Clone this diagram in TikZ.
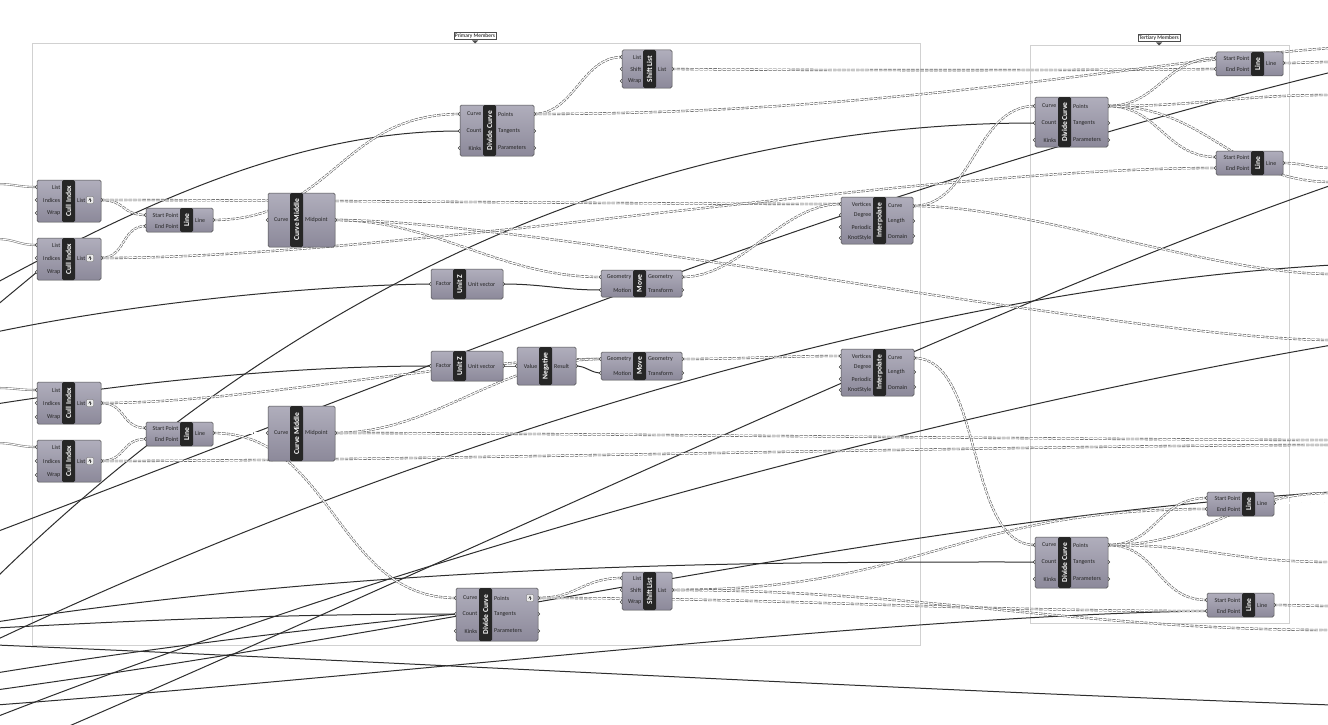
\documentclass[tikz,border=0pt]{standalone}
\usepackage{fontspec}
\setsansfont{Carlito}
\usetikzlibrary{positioning}

\definecolor{ghtop}{RGB}{176,174,188}
\definecolor{ghbot}{RGB}{140,137,154}

\pgfdeclarelayer{grp}
\pgfdeclarelayer{bg}
\pgfsetlayers{grp,bg,main}

\tikzset{
  ghbody/.style={draw=black!70, line width=0.5pt, rounded corners=1.5pt, top color=ghtop, bottom color=ghbot},
  ghstrip/.style={fill=black!85, rounded corners=1.5pt},
  ghtitle/.style={text=white, font=\sffamily\bfseries\fontsize{7.5}{8}\selectfont, rotate=90, inner sep=0pt},
  ghlab/.style={font=\sffamily\fontsize{6}{6}\selectfont, text=black!85, inner sep=0pt},
  ghport/.style={draw=black!80, fill=white, line width=0.5pt},
  ghicon/.style={draw=black!60, fill=black!8, line width=0.4pt, rounded corners=0.8pt},
  wire/.style={draw=black!82, line width=1pt},
  lwire/.style={draw=black!62, line width=0.6pt, double=white, double distance=1.1pt, dash pattern=on 3.4pt off 1.2pt},
  twire/.style={draw=black!50, line width=0.6pt, double=white, double distance=0.9pt},
  grpframe/.style={draw=black!18, line width=0.6pt},
  grplab/.style={draw=black!70, fill=white, font=\sffamily\fontsize{5.5}{6}\selectfont, inner sep=1.2pt}
}

% #1 name, #2-#5 box, #6 strip left, #7 title, #8 inputs, #9 outputs
\newcommand{\ghcomp}[9]{%
  \foreach \py/\pl [count=\k] in {#8}{
    \draw[ghport] (#2,\py) circle (1.7pt);
    \coordinate (#1-i\k) at (#2,\py);
  }
  \foreach \py/\pl [count=\k] in {#9}{
    \draw[ghport] (#4,\py) circle (1.7pt);
    \coordinate (#1-o\k) at (#4,\py);
  }
  \draw[ghbody] (#2,#3) rectangle (#4,#5);
  \coordinate (#1) at ({(#2+#4)/2},{(#3+#5)/2});
  \fill[ghstrip] (#6,#3) rectangle ({#6+13},#5);
  \node[ghtitle] at ({#6+6.5},{(#3+#5)/2}) {#7};
  \foreach \py/\pl in {#8}
    \node[ghlab, anchor=east] at ({#6-1.5},\py) {\pl};
  \foreach \py/\pl in {#9}
    \node[ghlab, anchor=west] at ({#6+15},\py) {\pl};
}

% wire with horizontal tangents, #1 = handle length
\newcommand{\ghlink}[4][40]{\draw[#2] (#3) .. controls +(#1,0) and +(-#1,0) .. (#4);}

\begin{document}
\begin{tikzpicture}[x=1pt, y=-1pt]
  \useasboundingbox (0,0) rectangle (1328,725);

  % groups
  \begin{pgfonlayer}{grp}
    \fill[white] (0,0) rectangle (1328,725);
    \draw[grpframe] (32,43) rectangle (920,645);
    \draw[grpframe] (1030,45) rectangle (1289,623);
  \end{pgfonlayer}
  \node[grplab] (primary) at (475,36) {Primary Members};
  \node[grplab] (tertiary) at (1159,38) {Tertiary Members};
  \fill[black!70] (472,40.5) -- (478,40.5) -- (475,43.5) -- cycle;
  \fill[black!70] (1156,42.5) -- (1162,42.5) -- (1159,45.5) -- cycle;

  % components
  \ghcomp{cullA}{37}{180}{101}{222}{62}{Cull Index}{187/List,200/Indices,213/Wrap}{200/List}
  \ghcomp{cullB}{37}{238}{101}{280}{62}{Cull Index}{245/List,258/Indices,272/Wrap}{258/List}
  \ghcomp{cullC}{37}{382}{101}{424}{62}{Cull Index}{390/List,403/Indices,417/Wrap}{403/List}
  \ghcomp{cullD}{37}{440}{101}{482}{62}{Cull Index}{447/List,461/Indices,475/Wrap}{461/List}
  \ghcomp{lineA}{146}{208}{213}{232}{180}{Line}{215/Start Point,226/End Point}{220/Line}
  \ghcomp{lineB}{146}{422}{213}{446}{180}{Line}{428/Start Point,439/End Point}{433/Line}
  \ghcomp{midA}{268}{193}{335}{247}{290}{Curve Middle}{220/Curve}{220/Midpoint}
  \ghcomp{midB}{268}{406}{335}{461}{290}{Curve Middle}{433/Curve}{433/Midpoint}
  \ghcomp{divA}{460}{105}{534}{156}{483}{Divide Curve}{114/Curve,131/Count,148/Kinks}{114/Points,131/Tangents,148/Parameters}
  \ghcomp{shiftA}{622}{50}{672}{88}{643}{Shift List}{57/List,69/Shift,81/Wrap}{69/List}
  \ghcomp{unitA}{431}{269}{503}{299}{453}{Unit Z}{284/Factor}{284/Unit vector}
  \ghcomp{unitB}{431}{351}{503}{381}{453}{Unit Z}{366/Factor}{366/Unit vector}
  \ghcomp{negB}{517}{347}{576}{385}{539}{Negative}{366/Value}{366/Result}
  \ghcomp{moveA}{601}{270}{682}{297}{633}{Move}{277/Geometry,290/Motion}{277/Geometry,290/Transform}
  \ghcomp{moveB}{601}{352}{682}{380}{633}{Move}{359/Geometry,373/Motion}{359/Geometry,373/Transform}
  \ghcomp{intA}{841}{197}{913}{244}{873}{Interpolate}{204/Vertices,215/Degree,227/Periodic,238/KnotStyle}{206/Curve,221/Length,236/Domain}
  \ghcomp{intB}{841}{349}{914}{396}{873}{Interpolate}{356/Vertices,367/Degree,379/Periodic,390/KnotStyle}{358/Curve,372/Length,387/Domain}
  \ghcomp{divB}{456}{588}{538}{641}{479}{Divide Curve}{598/Curve,614/Count,631/Kinks}{598/Points,614/Tangents,631/Parameters}
  \ghcomp{shiftB}{622}{572}{672}{610}{643}{Shift List}{578/List,590/Shift,602/Wrap}{590/List}
  \ghcomp{divC}{1035}{97}{1108}{147}{1058}{Divide Curve}{106/Curve,123/Count,140/Kinks}{106/Points,123/Tangents,140/Parameters}
  \ghcomp{lineC}{1216}{52}{1283}{76}{1251}{Line}{58/Start Point,69/End Point}{63/Line}
  \ghcomp{lineD}{1216}{151}{1283}{175}{1251}{Line}{157/Start Point,168/End Point}{163/Line}
  \ghcomp{divD}{1035}{537}{1108}{588}{1058}{Divide Curve}{545/Curve,562/Count,579/Kinks}{545/Points,562/Tangents,579/Parameters}
  \ghcomp{lineE}{1207}{492}{1274}{516}{1242}{Line}{498/Start Point,509/End Point}{503/Line}
  \ghcomp{lineF}{1207}{593}{1274}{617}{1242}{Line}{600/Start Point,611/End Point}{605/Line}

  % little flags on some outputs
  \foreach \ix/\iy in {90/200,90/258,90/403,90/461,530/598}{
    \draw[ghicon] (\ix-3.5,\iy-3.5) rectangle (\ix+3.5,\iy+3.5);
    \draw[black!70, line width=0.4pt, ->, >=stealth] (\ix,\iy+2.2) -- (\ix,\iy-2.4);
  }

  % free wire ends
  \foreach \n/\yy in {L1/184,L2/239,L3/306,L4/332,L5/388,L6/404,L7/443,L8/578,L9/532,L10/622,L11/628,L12/645,L13/705,L15/640,L16/673,L17/283,L18/717,L19/690}
    \coordinate (e\n) at (-4,\yy);
  \coordinate (eB1) at (60,730);
  \foreach \n/\yy in {R1/72,R2/48,R3/95,R4/182,R5/62,R6/168,R7/340,R8/445,R9/562,R10/493,R11/503,R12/606,R13/705,R14/185,R15/265,R16/440,R17/630,R18/345,R19/492,R20/274}
    \coordinate (e\n) at (1332,\yy);

  \begin{pgfonlayer}{bg}
    % incoming from the left
    \ghlink[20]{twire}{eL1}{cullA-i1}
    \ghlink[20]{twire}{eL2}{cullB-i1}
    \ghlink[20]{twire}{eL5}{cullC-i1}
    \ghlink[20]{twire}{eL7}{cullD-i1}
    \draw[wire] (eL3) -- (cullB-i3);
    \draw[wire] (eL17) .. controls (150,200) and (300,131) .. (divA-i2);
    \draw[wire] (eL4) .. controls (150,300) and (330,285) .. (unitA-i1);
    \draw[wire] (eL6) .. controls (150,380) and (300,366) .. (unitB-i1);
    \draw[wire] (eL8) .. controls (250,330) and (600,123) .. (divC-i2);
    \draw[wire] (eL9) .. controls (450,360) and (850,190) .. (eR1);
    \draw[wire] (eL10) .. controls (400,560) and (800,562) .. (divD-i2);
    \draw[wire] (eL11) .. controls (200,617) and (330,614) .. (divB-i2);
    \draw[wire] (eL16) .. controls (200,640) and (380,622) .. (divB-i2);
    \draw[wire] (eL12) .. controls (400,662) and (900,690) .. (eR13);
    \draw[wire] (eL13) .. controls (400,675) and (900,615) .. (lineF-i2);
    \draw[wire] (eB1) .. controls (500,540) and (1000,300) .. (eR14);
    \draw[wire] (eL15) .. controls (400,450) and (900,290) .. (eR15);
    \draw[wire] (eL18) .. controls (400,560) and (900,420) .. (eR18);
    \draw[wire] (eL19) .. controls (500,620) and (900,520) .. (eR19);

    % lists
    \ghlink[25]{lwire}{cullA-o1}{lineA-i1}
    \ghlink[25]{lwire}{cullB-o1}{lineA-i2}
    \ghlink[25]{lwire}{cullC-o1}{lineB-i1}
    \ghlink[25]{lwire}{cullD-o1}{lineB-i2}
    \ghlink[20]{lwire}{lineA-o1}{midA-i1}
    \ghlink[20]{lwire}{lineB-o1}{midB-i1}
    \ghlink[120]{lwire}{lineA-o1}{divA-i1}
    \ghlink[120]{lwire}{lineB-o1}{divB-i1}
    \ghlink[200]{lwire}{cullA-o1}{intA-i1}
    \ghlink[300]{lwire}{cullB-o1}{lineD-i2}
    \ghlink[150]{lwire}{cullC-o1}{moveB-i1}
    \ghlink[300]{lwire}{cullD-o1}{eR8}
    \ghlink[100]{lwire}{midA-o1}{moveA-i1}
    \ghlink[200]{lwire}{midA-o1}{eR7}
    \ghlink[100]{lwire}{midB-o1}{moveB-i1}
    \ghlink[200]{lwire}{midB-o1}{eR16}
    \ghlink[60]{lwire}{moveA-o1}{intA-i1}
    \ghlink[60]{lwire}{moveB-o1}{intB-i1}
    \ghlink[60]{lwire}{intA-o1}{divC-i1}
    \ghlink[120]{lwire}{intA-o1}{eR20}
    \ghlink[70]{lwire}{intB-o1}{divD-i1}
    \ghlink[40]{lwire}{divA-o1}{shiftA-i1}
    \draw[lwire] (shiftA-o1) .. controls +(150,1.5) and +(-150,1.5) .. (lineC-i2);
    \draw[lwire] (divA-o1) .. controls (900,114) and (1150,60) .. (eR2);
    \ghlink[50]{lwire}{divC-o1}{lineC-i1}
    \ghlink[50]{lwire}{divC-o1}{lineD-i1}
    \ghlink[100]{lwire}{divC-o1}{eR3}
    \ghlink[100]{lwire}{divC-o1}{eR4}
    \ghlink[20]{lwire}{lineC-o1}{eR5}
    \ghlink[20]{lwire}{lineD-o1}{eR6}
    \ghlink[40]{lwire}{divB-o1}{shiftB-i1}
    \ghlink[250]{lwire}{divB-o1}{lineF-i2}
    \ghlink[250]{lwire}{shiftB-o1}{lineE-i2}
    \ghlink[250]{lwire}{shiftB-o1}{eR17}
    \ghlink[50]{lwire}{divD-o1}{lineE-i1}
    \ghlink[50]{lwire}{divD-o1}{lineF-i1}
    \ghlink[100]{lwire}{divD-o1}{eR9}
    \ghlink[100]{lwire}{divD-o1}{eR10}
    \ghlink[20]{lwire}{lineE-o1}{eR11}
    \ghlink[20]{lwire}{lineF-o1}{eR12}

    % single values
    \ghlink[40]{wire}{unitA-o1}{moveA-i2}
    \ghlink[8]{wire}{unitB-o1}{negB-i1}
    \ghlink[10]{wire}{negB-o1}{moveB-i2}
  \end{pgfonlayer}
\end{tikzpicture}
\end{document}
